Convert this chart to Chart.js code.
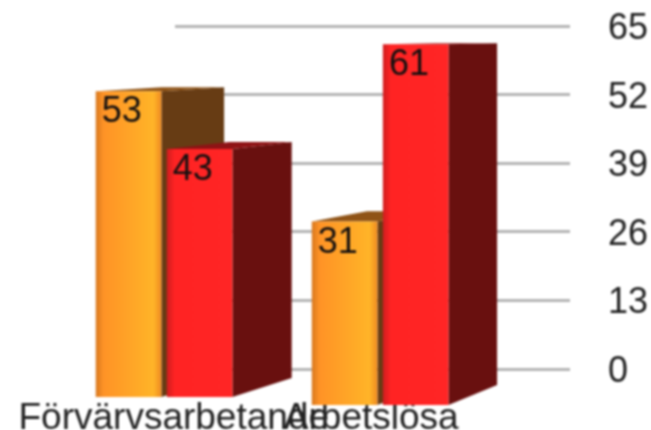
<!DOCTYPE html>
<html><head><meta charset="utf-8">
<style>html,body{margin:0;padding:0;background:#fff;overflow:hidden}canvas{display:block;filter:blur(0.9px)}</style>
<script src="https://cdn.jsdelivr.net/npm/chart.js@4"></script></head>
<body><canvas id="c" width="651" height="430"></canvas>
<script>
const categories = ["Förvärvsarbetande", "Arbetslösa"];
const seriesA = [53, 31];
const seriesB = [43, 61];
const yTicks = [0, 13, 26, 39, 52, 65];

// perspective projection from the grid plane onto the front and back of each group
const frontX = { a: -135.4, b: 1.094 };
const backX = { a: -58, b: 1.04 };
const frontY = [{ base: 397, k: 1.093 }, { base: 405, k: 1.121 }];
const backY = [{ base: 378, k: 1.04 }, { base: 385, k: 1.062 }];
const faces = [
  { stops: ["#d8781f", "#ff9326", "#ffb428", "#f08a20"], side: "#673c14", top: "#8f5316" },
  { stops: ["#cf1d1f", "#ff2323", "#ff2525", "#ff2525"], side: "#69100f", top: "#8f1315" }
];
const store = new WeakMap();

const persp = {
  id: "persp",
  afterDatasetsUpdate(chart) {
    const ctx = chart.ctx, y0 = chart.scales.y.getPixelForValue(0);
    chart.data.datasets.forEach((ds, d) => {
      chart.getDatasetMeta(d).data.forEach((el, i) => {
        // the paint order needs series B on top, so its slot is mirrored inside the category
        const c = chart.scales.x.getPixelForValue(i);
        const mid = 2 * c - el.x;
        const left = mid - el.width / 2, right = mid + el.width / 2, yTop = el.y;
        const fl = frontX.a + frontX.b * left, fr = frontX.a + frontX.b * right;
        const bl = backX.a + backX.b * left, br = backX.a + backX.b * right;
        const fY = v => frontY[i].base + (v - y0) * frontY[i].k;
        const bY = v => backY[i].base + (v - y0) * backY[i].k;
        store.set(el, { fl, fr, bl, br, ft: fY(yTop), fb: fY(y0), bt: bY(yTop), bb: bY(y0) });
        const g = ctx.createLinearGradient(fl, 0, fr, 0);
        const s = faces[d].stops;
        g.addColorStop(0, s[0]); g.addColorStop(0.12, s[1]); g.addColorStop(0.88, s[2]); g.addColorStop(1, s[3]);
        el.x = (fl + fr) / 2; el.width = fr - fl; el.y = fY(yTop); el.base = fY(y0);
        el.options = Object.assign({}, el.options, { backgroundColor: g, borderWidth: 0 });
      });
    });
  },
  beforeDatasetDraw(chart, args) {
    const ctx = chart.ctx, d = args.index;
    chart.getDatasetMeta(d).data.forEach(el => {
      const p = store.get(el);
      ctx.save();
      ctx.fillStyle = faces[d].side;
      ctx.beginPath();
      ctx.moveTo(p.fr, p.ft); ctx.lineTo(p.br, p.bt); ctx.lineTo(p.br, p.bb); ctx.lineTo(p.fr, p.fb);
      ctx.closePath(); ctx.fill();
      ctx.fillStyle = faces[d].top;
      ctx.beginPath();
      ctx.moveTo(p.fl, p.ft); ctx.lineTo(p.fr, p.ft); ctx.lineTo(p.br, p.bt); ctx.lineTo(p.bl, p.bt);
      ctx.closePath(); ctx.fill();
      ctx.restore();
    });
  },
  afterDatasetsDraw(chart) {
    const ctx = chart.ctx;
    ctx.save();
    ctx.font = '36px "Liberation Sans"';
    ctx.fillStyle = "#141010";
    ctx.textBaseline = "middle";
    chart.data.datasets.forEach((ds, d) => {
      chart.getDatasetMeta(d).data.forEach((el, i) => {
        const p = store.get(el);
        ctx.fillText(String(ds.data[i]), p.fl + 6, p.ft + 21);
      });
    });
    ctx.restore();
  }
};

new Chart(document.getElementById("c"), {
  type: "bar",
  plugins: [persp],
  data: {
    labels: categories,
    datasets: [
      { label: "A", data: seriesA, order: 2, clip: false, backgroundColor: "#ffa326" },
      { label: "B", data: seriesB, order: 1, clip: false, backgroundColor: "#ff2323" }
    ]
  },
  options: {
    responsive: false,
    animation: false,
    events: [],
    categoryPercentage: 0.658,
    barPercentage: 0.923,
    layout: { padding: { left: 175, top: 26, right: 0, bottom: 0 } },
    plugins: { legend: { display: false }, tooltip: { enabled: false } },
    scales: {
      x: {
        grid: { display: false },
        border: { display: false },
        afterFit(s) { s.height = 61; s.paddingLeft = 0; s.paddingRight = 0; },
        ticks: {
          autoSkip: false, maxRotation: 0, minRotation: 0, padding: 20, labelOffset: -100,
          color: "#222", font: { family: "Liberation Sans", size: 37 }
        }
      },
      y: {
        position: "right",
        min: 0, max: 65,
        afterFit(s) { s.width = 81; s.paddingTop = 0; s.paddingBottom = 0; },
        afterBuildTicks(s) { s.ticks = yTicks.map(v => ({ value: v })); },
        border: { display: false },
        grid: { color: "#b4b4b4", lineWidth: 3, drawTicks: false },
        ticks: {
          padding: 38, labelOffset: 3, color: "#222", font: { family: "Liberation Sans", size: 36 }
        }
      }
    }
  }
});
</script></body></html>
